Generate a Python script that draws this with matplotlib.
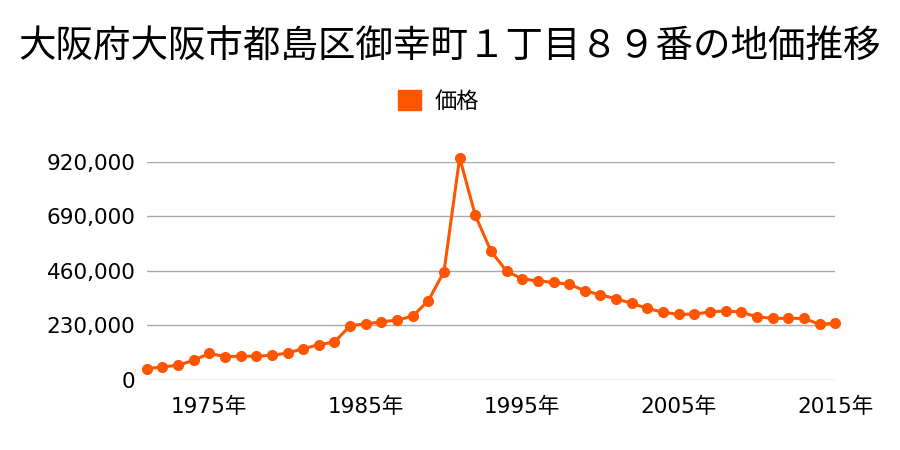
import matplotlib
matplotlib.use("Agg")
import matplotlib.pyplot as plt

plt.rcParams['font.family'] = ['Noto Sans CJK JP', 'DejaVu Sans']

# 年と価格（円/m2）
years = list(range(1971, 2016))
prices = [48000, 55000, 62000, 83000, 112000, 99000, 100000, 100500, 104000, 114000,
          132000, 149000, 160000, 229000, 237000, 245000, 253000, 269000, 335000, 457000,
          938000, 695000, 544000, 459000, 427000, 418000, 412000, 404000, 377000, 359000,
          343000, 323000, 302000, 286000, 277000, 278000, 287000, 292000, 286000, 267000,
          260000, 260000, 260000, 235000, 240000]
yticks = [0, 230000, 460000, 690000, 920000]
xticks = [1975, 1985, 1995, 2005, 2015]
color = '#ff5500'
tick_fonts = ['DejaVu Sans', 'Noto Sans CJK JP']

fig = plt.figure(figsize=(9, 4.5), dpi=100)
ax = fig.add_axes([0.163, 0.1556, 0.765, 0.4844])

ax.plot(years, prices, color=color, lw=2.2, marker='o', ms=7, clip_on=False, zorder=3, label='価格')

ax.set_xlim(1971, 2015)
ax.set_ylim(0, 920000)
ax.set_yticks(yticks)
ax.set_yticklabels([f'{v:,}' for v in yticks], family=tick_fonts, fontsize=15.5)
ax.set_xticks(xticks)
ax.set_xticklabels([f'{y}年' for y in xticks], family=tick_fonts, fontsize=15.5)
ax.grid(axis='y', color='#aaaaaa', lw=1)
ax.tick_params(axis='y', length=0, pad=8)
ax.tick_params(axis='x', length=0, pad=12)
for s in ax.spines.values():
    s.set_visible(False)

fig.suptitle('大阪府大阪市都島区御幸町１丁目８９番の地価推移', fontsize=27, y=0.94)
fig.legend(loc='upper center', bbox_to_anchor=(0.487, 0.845), frameon=False, fontsize=16,
           handles=[plt.Rectangle((0, 0), 1, 1, color=color)], labels=['価格'],
           handlelength=1.05, handleheight=1.05, handletextpad=0.6)

fig.savefig('out.png')
